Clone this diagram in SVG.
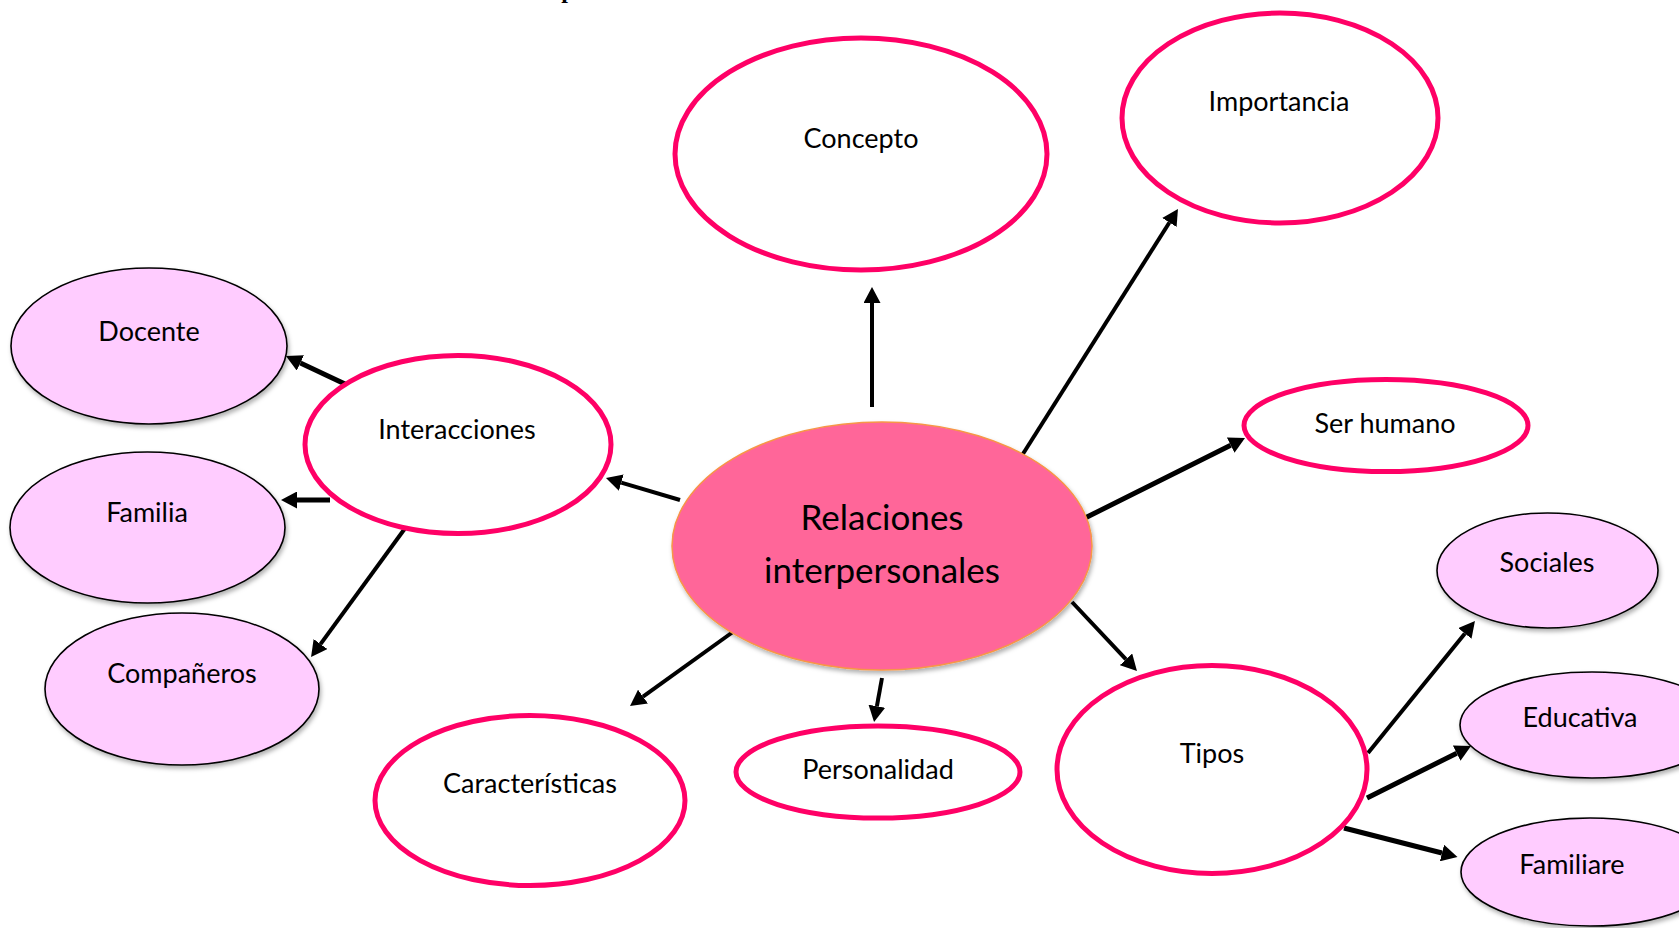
<svg xmlns="http://www.w3.org/2000/svg" width="1679" height="928" viewBox="0 0 1679 928">
<style>
  .main { fill: #ffffff; stroke: #ff0066; stroke-width: 5; }
  .sub { fill: #ffccff; stroke: #000000; stroke-width: 1.6; filter: url(#sh); }
  .core { fill: #ff6699; stroke: #f79646; stroke-width: 1.5; filter: url(#sh); }
  .lbl { font-family: Lato, "Open Sans", "Liberation Sans", sans-serif; font-size: 27px; fill: #000000; text-anchor: middle; }
  .big { font-size: 35px; }
  .arr { stroke: #000000; stroke-width: 4; fill: none; marker-end: url(#ah); }
  .thick { stroke-width: 5; }
</style>
<defs>
  <marker id="ah" markerUnits="userSpaceOnUse" markerWidth="17" markerHeight="17" refX="0" refY="8.5" orient="auto">
    <path d="M0,0 L16,8.5 L0,17 z" fill="#000000"/>
  </marker>
  <filter id="sh" x="-10%" y="-10%" width="125%" height="130%">
    <feDropShadow dx="1.5" dy="3" stdDeviation="2" flood-color="#000000" flood-opacity="0.3"/>
  </filter>
</defs>
<rect width="1679" height="928" fill="#ffffff"/>
<text x="568" y="-2" font-family="Liberation Serif, serif" font-weight="bold" font-size="24" text-anchor="middle">p</text>

<g id="connectors">
  <line class="arr" x1="872" y1="407" x2="872" y2="303"/>
  <line class="arr" x1="1021" y1="457" x2="1169.4" y2="222.5"/>
  <line class="arr thick" x1="1083" y1="519" x2="1230.7" y2="445.2"/>
  <line class="arr" x1="680" y1="500" x2="621.3" y2="482.6"/>
  <line class="arr thick" x1="345" y1="384" x2="300.4" y2="362.9"/>
  <line class="arr thick" x1="330" y1="500" x2="297" y2="500"/>
  <line class="arr" x1="406" y1="527" x2="320.5" y2="644.1"/>
  <line class="arr" x1="737" y1="629" x2="643" y2="696.6"/>
  <line class="arr" x1="882" y1="678" x2="876.9" y2="706.2"/>
  <line class="arr" x1="1072" y1="602" x2="1126" y2="659.3"/>
  <line class="arr" x1="1368" y1="753" x2="1464.9" y2="633.5"/>
  <line class="arr thick" x1="1367" y1="798" x2="1456.7" y2="753.2"/>
  <line class="arr thick" x1="1344" y1="828" x2="1442" y2="853"/>
</g>

<g id="node-relaciones">
  <ellipse class="core" cx="882" cy="546" rx="210" ry="124"/>
  <text class="lbl big" x="882" y="530">Relaciones</text>
  <text class="lbl big" x="882" y="583">interpersonales</text>
</g>
<g id="node-concepto">
  <ellipse class="main" cx="861" cy="154" rx="186" ry="116"/>
  <text class="lbl" x="861" y="148">Concepto</text>
</g>
<g id="node-importancia">
  <ellipse class="main" cx="1280" cy="118" rx="158" ry="105"/>
  <text class="lbl" x="1279" y="111">Importancia</text>
</g>
<g id="node-serhumano">
  <ellipse class="main" cx="1386" cy="425.5" rx="142" ry="46"/>
  <text class="lbl" x="1385" y="433">Ser humano</text>
</g>
<g id="node-interacciones">
  <ellipse class="main" cx="458" cy="444.5" rx="153" ry="89"/>
  <text class="lbl" x="457" y="439">Interacciones</text>
</g>
<g id="node-docente">
  <ellipse class="sub" cx="149" cy="346" rx="138" ry="78"/>
  <text class="lbl" x="149" y="341">Docente</text>
</g>
<g id="node-familia">
  <ellipse class="sub" cx="147.5" cy="527.5" rx="137.5" ry="75.5"/>
  <text class="lbl" x="147" y="522">Familia</text>
</g>
<g id="node-companeros">
  <ellipse class="sub" cx="182" cy="689" rx="137" ry="76"/>
  <text class="lbl" x="182" y="683">Compañeros</text>
</g>
<g id="node-caracteristicas">
  <ellipse class="main" cx="530" cy="800.5" rx="155" ry="85"/>
  <text class="lbl" x="530" y="793">Características</text>
</g>
<g id="node-personalidad">
  <ellipse class="main" cx="878" cy="772" rx="142" ry="46"/>
  <text class="lbl" x="878" y="779">Personalidad</text>
</g>
<g id="node-tipos">
  <ellipse class="main" cx="1212" cy="769.5" rx="155" ry="104"/>
  <text class="lbl" x="1212" y="763">Tipos</text>
</g>
<g id="node-sociales">
  <ellipse class="sub" cx="1547.5" cy="570.5" rx="110.5" ry="57.5"/>
  <text class="lbl" x="1547" y="572">Sociales</text>
</g>
<g id="node-educativa">
  <ellipse class="sub" cx="1592" cy="725" rx="132" ry="53"/>
  <text class="lbl" x="1580" y="727">Educativa</text>
</g>
<g id="node-familiares">
  <ellipse class="sub" cx="1590" cy="872" rx="129" ry="54"/>
  <text class="lbl" x="1572" y="874">Familiare</text>
</g>
</svg>
